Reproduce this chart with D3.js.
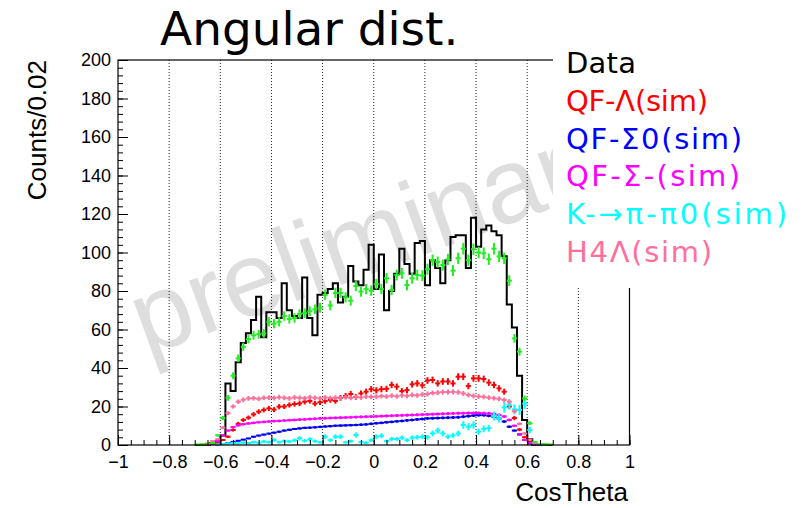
<!DOCTYPE html>
<html>
<head>
<meta charset="utf-8">
<script src="https://cdn.jsdelivr.net/npm/d3@7"></script>
<style>
  html, body { margin: 0; padding: 0; background: #fff; }
  svg { display: block; }
</style>
</head>
<body>
<svg id="chart" width="802" height="508"></svg>
<script>
// Binning: 0.02-wide bins, listed from the bin starting at -0.70 up to the one starting at 0.68
const binStart = -0.70;
const binWidth = 0.02;

const dataCounts = [
  0, 0, 0, 1, 2,
  5, 32, 28, 43, 53, 58, 65, 77, 56, 69,
  69, 66, 84, 70, 67, 66, 87, 66, 57, 78,
  79, 81, 84, 74, 77, 93, 85, 83, 91, 104,
  81, 99, 70, 80, 89, 102, 94, 89, 105, 106,
  83, 96, 92, 84, 96, 108, 109, 109, 92, 118,
  103, 112, 114, 111, 109, 98, 73, 61, 36, 13,
  3, 0, 0, 0, 0
];
const simTotal = [
  0.3, 0.3, 0.4, 1, 5,
  14, 24.5, 36, 45, 51, 55, 57, 57.5, 58, 64,
  63, 64, 67, 65.5, 66, 68, 68.5, 69.5, 70.5, 71.3,
  78, 72.5, 79, 79, 76.7, 75, 82.6, 79.7, 81, 80.2,
  83.6, 81, 86.6, 80.5, 88.3, 89.2, 83.1, 86.6, 88.3, 88,
  91.3, 96, 95, 93.5, 96.4, 90.6, 97, 102, 96, 101.7,
  100, 99.6, 96.5, 102, 98, 97, 85.4, 55.4, 48.5, 24.2,
  11.3, 1.5, 0.5, 0.4, 0.3
];
const qfLambda = [
  0, 0, 0.2, 0.5, 1.2,
  2.6, 4.3, 7.8, 11, 13, 14.2, 15.9, 17.3, 18.2, 19,
  18.4, 19.9, 20, 20.8, 21.3, 21.6, 22.5, 22.9, 21.5, 22.2,
  22.8, 23.4, 22.9, 24.5, 25.5, 26.5, 25, 26.8, 27.7, 29,
  28.4, 29, 29.2, 31.2, 30.3, 28, 28.5, 31.5, 32, 31,
  33.5, 33.8, 32, 33, 33, 32, 35.5, 35.5, 30.6, 34.6,
  34.6, 34.3, 32.4, 31.2, 29.4, 27.7, 20, 14, 8, 4,
  1.5, 0.3, 0, 0, 0
];
const qfSigma0 = [
  0, 0, 0, 0, 0.2,
  0.5, 1, 1.6, 2.2, 2.8, 3.4, 4.3, 4.9, 5.4, 5.9,
  6.4, 6.9, 7.5, 7.9, 8.3, 8.6, 8.9, 9.0, 9.2, 9.4,
  9.6, 9.8, 10, 10.1, 10.2, 10.3, 10.4, 10.55, 10.7, 11,
  11.3, 11.5, 11.8, 12, 12.3, 12.5, 12.8, 13, 13.3, 13.5,
  13.8, 13.9, 14, 14.1, 14.2, 14.3, 14.4, 14.7, 15, 15.3,
  15.5, 15.5, 15.2, 14.7, 13.8, 12.2, 9.5, 7.5, 5.5, 2.6,
  0.8, 0.2, 0, 0, 0
];
const qfSigmaMinus = [
  0, 0, 0.2, 0.6, 2,
  5, 7.5, 9.3, 10.2, 10.8, 11.2, 11.5, 11.8, 12, 12.2,
  12.4, 12.5, 12.7, 12.9, 13, 13.2, 13.3, 13.5, 13.6, 13.8,
  13.9, 14, 14.1, 14.2, 14.3, 14.4, 14.5, 14.6, 14.7, 14.8,
  14.9, 15, 15.1, 15.2, 15.3, 15.4, 15.5, 15.6, 15.7, 15.8,
  15.9, 16, 16.1, 16.2, 16.3, 16.4, 16.5, 16.5, 16.6, 16.6,
  16.6, 16.5, 16.4, 16.2, 15.6, 14.8, 13, 10, 5.5, 2.6,
  1, 0.3, 0, 0, 0
];
const kaonDecay = [
  0, 0, 0, 0, 0.3,
  0.5, 0.8, 1, 0.8, 1.2, 1, 1.5, 1.2, 1.8, 1.5,
  2.6, 1.5, 2, 1.8, 2.4, 3.5, 2.2, 3, 2, 1.4,
  4.3, 2.5, 4.3, 4.3, 1.4, 2, 5.2, 1.5, 1.2, 2.5,
  4.3, 4.8, 2, 3.1, 3.1, 3.8, 2.5, 3.8, 4, 4.3,
  4, 6, 7.5, 6, 4.3, 5, 6, 10.4, 9.5, 10.4,
  6.9, 8.4, 8.7, 15, 13.9, 19.5, 21, 18.5, 18.2, 21.5,
  7.8, 1.2, 0.3, 0, 0
];
const hypertriton4 = [
  0, 0.3, 0.8, 2, 3,
  9, 16.5, 20, 22.5, 23.5, 24.2, 24.3, 24, 24.5, 24.6,
  24.4, 24.8, 24.5, 24.2, 24.7, 24.5, 24.3, 24.8, 24.5, 24.2,
  24.7, 24.4, 24.6, 24.3, 24.8, 24.5, 25, 24.7, 25.2, 25,
  25.1, 25.4, 25.2, 25.6, 25.3, 25.8, 25.5, 26, 25.8, 26.2,
  26.5, 27, 27.2, 27.5, 27.5, 27.6, 27.4, 26.8, 26, 25.5,
  25.2, 25, 24.6, 24.3, 24, 23.4, 22.5, 17.5, 11, 6,
  2.8, 1, 0.5, 0.2, 0
];

const xTicks = [-1, -0.8, -0.6, -0.4, -0.2, 0, 0.2, 0.4, 0.6, 0.8, 1];
const yTicks = [0, 20, 40, 60, 80, 100, 120, 140, 160, 180, 200];

const legendLabels = ["Data", "QF-Λ(sim)", "QF-Σ0(sim)", "QF-Σ-(sim)", "K-→π-π0(sim)", "H4Λ(sim)"];
const legendColors = ["#000000", "#ff0000", "#0000ff", "#ff00ff", "#00ffff", "#ff6f9c"];
const legendWidths = [70, 142, 176, 174, 221, 146];

// Drawing order and per-series statistical error scale
const pointSeries = [
  { values: qfLambda,     color: "#ff0000", errScale: 0.3 },
  { values: qfSigma0,     color: "#0000ee", errScale: 0.2 },
  { values: qfSigmaMinus, color: "#ff00ff", errScale: 0.2 },
  { values: kaonDecay,    color: "#00ffff", errScale: 0.6 },
  { values: hypertriton4, color: "#ff6f9c", errScale: 0.25 },
  { values: simTotal,     color: "#22ee22", errScale: 0.3 }
];

const svg = d3.select("#chart");
const frame = { left: 118, right: 629.5, top: 60, bottom: 445 };

const x = d3.scaleLinear().domain([-1, 1]).range([frame.left, frame.right]);
const y = d3.scaleLinear().domain([0, 200]).range([frame.bottom, frame.top]);

const binLo = i => binStart + i * binWidth;
const binHi = i => binStart + (i + 1) * binWidth;

// Title
svg.append("text")
  .attr("x", 160).attr("y", 45)
  .attr("font-family", "DejaVu Sans, Verdana, sans-serif")
  .attr("font-size", 47)
  .attr("fill", "#000")
  .text("Angular dist.");

// Watermark
svg.append("text")
  .attr("transform", "translate(146,356) rotate(-20)")
  .attr("font-family", "Liberation Sans, Arial, sans-serif")
  .attr("font-size", 106)
  .attr("fill", "#dedede")
  .text("preliminary");

// Vertical dotted grid
svg.append("g")
  .selectAll("line")
  .data(xTicks.slice(1, -1))
  .join("line")
  .attr("x1", d => x(d)).attr("x2", d => x(d))
  .attr("y1", frame.top).attr("y2", frame.bottom)
  .attr("stroke", "#222")
  .attr("stroke-width", 1)
  .attr("stroke-dasharray", "1,2");

// Data histogram outline
const histPath = d3.path();
histPath.moveTo(x(binLo(0)), y(0));
dataCounts.forEach((v, i) => {
  histPath.lineTo(x(binLo(i)), y(v));
  histPath.lineTo(x(binHi(i)), y(v));
});
histPath.lineTo(x(binHi(dataCounts.length - 1)), y(0));
svg.append("path")
  .attr("d", histPath.toString())
  .attr("fill", "none")
  .attr("stroke", "#000")
  .attr("stroke-width", 2);

// Simulated spectra as error crosses
pointSeries.forEach(s => {
  const g = svg.append("g").attr("stroke", s.color).attr("stroke-width", 2);
  const pts = s.values.map((v, i) => ({ v, i })).filter(d => d.v > 0);
  g.selectAll("line.h")
    .data(pts)
    .join("line")
    .attr("class", "h")
    .attr("x1", d => x(binLo(d.i))).attr("x2", d => x(binHi(d.i)))
    .attr("y1", d => y(d.v)).attr("y2", d => y(d.v));
  g.selectAll("line.v")
    .data(pts)
    .join("line")
    .attr("class", "v")
    .attr("x1", d => x((binLo(d.i) + binHi(d.i)) / 2))
    .attr("x2", d => x((binLo(d.i) + binHi(d.i)) / 2))
    .attr("y1", d => y(d.v + s.errScale * Math.sqrt(d.v)))
    .attr("y2", d => y(Math.max(0, d.v - s.errScale * Math.sqrt(d.v))));
});

// Frame
svg.append("rect")
  .attr("x", frame.left).attr("y", frame.top)
  .attr("width", frame.right - frame.left)
  .attr("height", frame.bottom - frame.top)
  .attr("fill", "none")
  .attr("stroke", "#000")
  .attr("stroke-width", 1.2);

// Axes with ticks pointing into the frame
const tickFont = "Liberation Sans, Arial, sans-serif";
const xMinor = d3.range(-1, 1.0001, 0.05);
const yMinor = d3.range(0, 200.001, 4);

const xAxis = svg.append("g").attr("transform", `translate(0,${frame.bottom})`);
xAxis.call(d3.axisBottom(x).tickValues(xMinor).tickSize(-5).tickFormat(""))
  .call(g => g.select(".domain").remove());
xAxis.append("g")
  .call(d3.axisBottom(x).tickValues(xTicks).tickSize(-10).tickPadding(10)
    .tickFormat(d => d3.format("")(+d.toFixed(1)).replace("-", "\u2212")))
  .call(g => g.select(".domain").remove())
  .call(g => g.selectAll("text").attr("font-family", tickFont).attr("font-size", 18).attr("fill", "#000"));

const yAxis = svg.append("g").attr("transform", `translate(${frame.left},0)`);
yAxis.call(d3.axisLeft(y).tickValues(yMinor).tickSize(-5).tickFormat(""))
  .call(g => g.select(".domain").remove());
yAxis.append("g")
  .call(d3.axisLeft(y).tickValues(yTicks).tickSize(-10).tickPadding(7))
  .call(g => g.select(".domain").remove())
  .call(g => g.selectAll("text").attr("font-family", tickFont).attr("font-size", 18).attr("fill", "#000"));
svg.selectAll(".tick line").attr("stroke", "#000").attr("stroke-width", 1);

// Axis titles
svg.append("text")
  .attr("x", 628).attr("y", 501)
  .attr("text-anchor", "end")
  .attr("font-family", tickFont)
  .attr("font-size", 26)
  .text("CosTheta");
svg.append("text")
  .attr("transform", "translate(46,60) rotate(-90)")
  .attr("text-anchor", "end")
  .attr("font-family", tickFont)
  .attr("font-size", 26)
  .text("Counts/0.02");

// Legend
const legend = svg.append("g");
legend.append("rect")
  .attr("x", 553).attr("y", 38).attr("width", 249).attr("height", 250)
  .attr("fill", "#fff");
legend.selectAll("text")
  .data(legendLabels)
  .join("text")
  .attr("x", 566)
  .attr("y", (d, i) => 73 + i * 37.8)
  .attr("font-family", "DejaVu Sans, Verdana, sans-serif")
  .attr("font-size", 29)
  .attr("textLength", (d, i) => legendWidths[i])
  .attr("lengthAdjust", "spacing")
  .attr("fill", (d, i) => legendColors[i])
  .text(d => d);
</script>
</body>
</html>
